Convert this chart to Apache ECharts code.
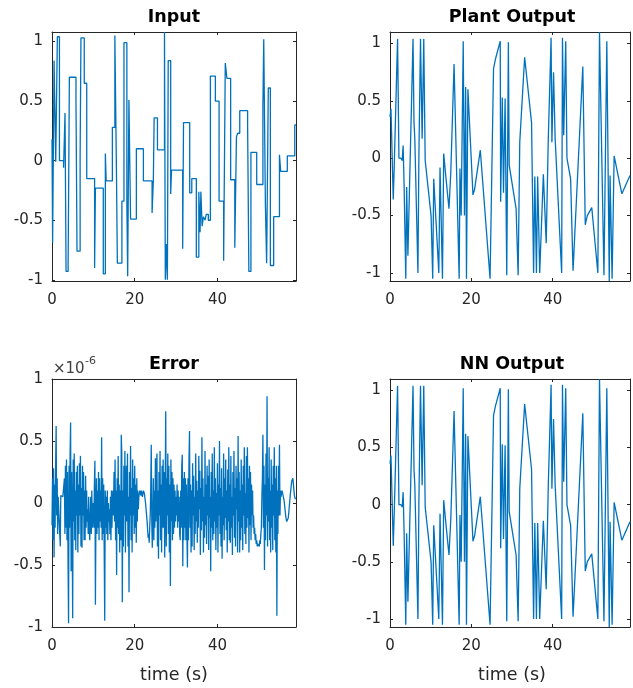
<!DOCTYPE html>
<html>
<head>
<meta charset="utf-8">
<script src="https://cdn.jsdelivr.net/npm/echarts@6.0.0/dist/echarts.min.js"></script>
<style>
  html, body { margin: 0; padding: 0; background: #fff; }
  #chart { width: 633px; height: 688px; }
</style>
</head>
<body>
<div id="chart"></div>
<script>
// time axis (s)
const xTicks = [0, 20, 40];
const tMax = 59;

// Input: piecewise-constant, [time, value] held until next time
const inputSteps = [
  [0, 0.18], [0.15, -0.69], [0.5, 0.84], [0.9, -0.01], [1.3, 1.04], [1.8, 0.0],
  [2.8, -0.06], [3.15, 0.40], [3.4, -0.93], [3.9, -0.88], [4.2, 0.70], [5.8, 0.50],
  [6.05, -0.76], [6.8, 0.04], [7.0, 1.03], [7.8, 0.65], [8.4, -0.15], [10.3, -0.9],
  [10.5, -0.23], [12.4, -0.95], [12.9, 0.06], [13.1, -0.17], [14.6, 0.28], [15.2, 1.05],
  [15.6, -0.14], [15.8, -0.86], [16.9, -0.34], [17.4, 0.99], [18.1, -0.36], [18.3, -0.97],
  [18.6, 0.51], [19.0, -0.49], [20.4, 0.10], [22.1, -0.17], [24.2, -0.44], [24.5, -0.17],
  [24.7, 0.36], [25.5, 0.09], [27.2, 1.08], [27.4, -1.0], [27.6, -0.7], [27.9, -1.0],
  [28.1, 0.84], [28.7, -0.28], [28.9, -0.08], [31.6, -0.74], [31.8, 0.32], [33.3, -0.27],
  [33.8, -0.15], [34.9, -0.81], [35.5, -0.26], [35.8, -0.6], [36.0, -0.26], [36.3, -0.55],
  [36.6, -0.47], [37.0, -0.5], [37.3, -0.45], [37.8, -0.5], [38.3, 0.71], [39.5, 0.5],
  [40.4, -0.34], [41.5, -0.84], [41.9, 0.82], [42.3, 0.69], [43.2, -0.16], [44.2, -0.73],
  [44.6, 0.2], [44.9, 0.23], [45.4, 0.42], [47.3, 0.3], [47.6, -0.93], [48.1, 0.07],
  [49.5, -0.2], [51.0, 0.47], [51.2, 1.02], [51.6, -0.37], [51.9, -0.86], [52.3, 0.61],
  [52.8, -0.88], [53.6, -0.47], [55.0, 0.05], [55.3, -0.09], [56.9, 0.04], [58.7, 0.3],
  [59.0, 0.3]
];

// Plant output vertices [time, value]
const plantOutput = [
  [0, 0.36], [0.24, 0.43], [0.8, -0.36], [1.05, -0.06], [1.4, -0.05], [1.86, 1.04],
  [2.2, 0.0], [2.7, 0.0], [3.0, -0.02], [3.23, 0.11], [3.47, -0.24], [3.88, -1.05],
  [4.1, -0.25], [4.4, -0.85], [5.66, 1.04], [5.9, 0.31], [6.1, 0.17], [6.87, -1.0],
  [7.1, 0.02], [7.5, 1.04], [7.9, 0.17], [8.3, 1.04], [8.65, -0.02], [10.1, -0.5],
  [10.5, -1.05], [10.75, -0.18], [12.0, -1.0], [12.3, -0.08], [12.9, -1.05], [13.2, 0.04],
  [13.7, -0.15], [14.5, -0.44], [14.95, -0.12], [15.75, 0.82], [17.0, -1.05], [17.2, -0.09],
  [17.5, -0.5], [18.0, 1.02], [18.3, -0.5], [18.6, 0.62], [18.8, -1.05], [19.15, 0.6],
  [19.6, 0.6], [20.4, -0.32], [20.8, -0.27], [22.2, 0.07], [24.6, -1.05], [25.45, 0.78],
  [25.9, 0.86], [27.1, 1.02], [27.2, -0.38], [27.6, 0.53], [27.9, -0.3], [28.3, 0.52],
  [28.7, -1.02], [29.1, 1.01], [29.3, -0.06], [31.0, -0.44], [31.5, -1.02], [31.9, 0.14],
  [33.1, 0.88], [34.8, 0.31], [35.3, -1.0], [35.6, -0.16], [36.0, -1.0], [36.3, -0.16],
  [36.8, -1.0], [37.7, -0.14], [38.4, -0.74], [38.9, 0.15], [39.6, 1.05], [39.8, 0.14],
  [40.2, 0.75], [40.6, 0.17], [42.2, -1.0], [42.4, 1.05], [42.7, 0.2], [43.2, 1.02],
  [43.5, 0.0], [44.4, -0.18], [45.0, -0.98], [47.4, 0.8], [48.0, -0.58], [48.5, -0.5],
  [49.6, -0.43], [51.1, -1.0], [51.5, 1.1], [52.6, -1.02], [53.3, 1.02], [53.9, -1.07],
  [54.1, -0.15], [54.6, -1.05], [55.1, 0.02], [57.0, -0.31], [59.0, -0.15]
];

// NN output is indistinguishable from the plant output (error ~1e-6)
const nnOutput = plantOutput;

// Error (x 1e-6), sampled every errorDt seconds, one row per second
const errorDt = 0.125;
const errorValues = [
  -0.18, 0.2, -0.3, 0.28, -0.44, 0.15, -0.2, 0.3,
  0.62, -0.1, 0.2, -0.25, 0.05, 0.06, 0.05, 0.05,
  -0.35, 0.06, 0.05, 0.07, 0.06, 0.05, 0.05, 0.06,
  0.2, -0.25, 0.3, -0.2, 0.35, -0.3, 0.25, -0.45,
  -0.97, 0.3, -0.2, 0.4, 0.65, -0.55, 0.25, -0.2,
  -0.93, 0.35, -0.15, 0.4, -0.3, 0.1, -0.38, 0.25,
  -0.1, 0.3, -0.4, 0.15, -0.25, 0.32, -0.1, 0.38,
  -0.35, 0.12, -0.36, 0.3, -0.1, 0.25, -0.3, 0.1,
  -0.3, 0.22, -0.2, 0.1, -0.15, -0.05, -0.25, 0.05,
  -0.2, -0.3, -0.1, 0.05, -0.25, 0.1, -0.2, -0.05,
  0.0, -0.2, 0.15, 0.34, -0.82, -0.1, 0.2, -0.25,
  0.1, -0.2, 0.25, -0.3, 0.2, -0.15, 0.1, -0.2,
  0.53, -0.3, 0.2, -0.25, 0.15, -0.4, -0.95, 0.1,
  -0.2, 0.05, -0.25, 0.1, -0.3, 0.0, -0.15, -0.05,
  -0.25, 0.05, -0.3, 0.1, -0.2, 0.05, 0.1, -0.1,
  0.25, -0.15, 0.35, -0.3, 0.1, -0.58, 0.2, -0.2,
  0.38, -0.25, 0.15, -0.4, 0.1, -0.3, 0.55, 0.4,
  -0.8, 0.1, -0.35, 0.3, -0.1, 0.42, -0.4, 0.15,
  0.3, -0.15, 0.4, -0.35, 0.05, -0.72, 0.25, -0.1,
  0.46, -0.3, 0.12, -0.4, 0.35, -0.1, 0.2, -0.25,
  0.3, -0.2, 0.15, -0.32, 0.2, -0.15, 0.1, -0.05,
  0.05, 0.08, 0.1, 0.08, 0.06, 0.1, 0.08, 0.05,
  0.08, 0.1, 0.1, 0.07, 0.03, 0.0, -0.05, -0.1,
  -0.15, -0.22, -0.28, -0.25, -0.32, -0.2, -0.1, 0.1,
  0.47, -0.15, -0.36, -0.1, 0.2, -0.3, 0.1, -0.2,
  0.36, -0.15, 0.2, 0.4, -0.35, 0.1, -0.45, 0.25,
  -0.1, 0.42, -0.3, 0.15, -0.4, 0.3, -0.2, 0.35,
  -0.2, 0.25, -0.44, 0.1, 0.74, -0.35, 0.2, -0.1,
  0.4, -0.25, 0.3, -0.4, 0.15, -0.67, 0.35, -0.15,
  0.25, -0.3, 0.2, -0.25, 0.15, -0.2, 0.1, -0.15,
  0.05, -0.1, 0.15, -0.2, 0.1, -0.15, 0.05, -0.25,
  -0.3, 0.1, -0.2, 0.3, 0.39, -0.51, 0.2, -0.3,
  0.25, -0.2, 0.2, -0.3, 0.15, -0.25, -0.52, 0.2,
  -0.3, 0.35, 0.58, -0.2, 0.15, -0.4, 0.1, -0.35,
  0.32, -0.1, 0.22, -0.38, 0.05, -0.25, 0.4, -0.15,
  0.18, -0.32, 0.1, -0.2, 0.38, -0.05, 0.26, -0.42,
  0.12, -0.22, 0.53, -0.15, 0.2, -0.4, 0.05, -0.28,
  0.42, -0.18, 0.15, -0.33, 0.3, -0.1, 0.22, -0.38,
  0.35, -0.12, 0.05, -0.55, 0.25, -0.2, 0.4, -0.3,
  0.1, -0.25, 0.45, -0.15, 0.2, -0.38, 0.08, -0.2,
  0.32, -0.4, 0.15, -0.1, 0.5, -0.25, 0.12, -0.35,
  0.28, -0.45, 0.05, -0.18, 0.4, -0.3, 0.2, -0.12,
  0.35, -0.22, 0.1, -0.4, 0.27, -0.15, 0.45, -0.3,
  0.15, -0.32, 0.38, -0.2, 0.05, -0.42, 0.25, -0.1,
  0.42, -0.28, 0.12, -0.35, 0.3, -0.05, 0.2, -0.4,
  0.54, -0.15, 0.25, -0.4, 0.1, -0.3, 0.35, -0.2,
  0.15, -0.38, 0.3, -0.1, 0.45, -0.25, 0.08, -0.33,
  0.38, -0.2, 0.45, -0.12, 0.2, -0.4, 0.3, -0.18,
  0.25, -0.3, 0.15, -0.1, 0.1, -0.2, -0.1, -0.25,
  -0.2, -0.3, -0.25, -0.33, -0.3, -0.35, -0.33, -0.34,
  -0.33, -0.35, -0.3, -0.33, -0.25, -0.2, 0.05, 0.2,
  0.55, -0.2, 0.3, -0.54, 0.15, -0.3, 0.4, -0.1,
  0.86, -0.35, 0.2, -0.15, 0.45, -0.3, 0.1, -0.4,
  0.35, -0.2, 0.15, -0.38, 0.3, -0.1, 0.45, -0.3,
  0.2, -0.4, 0.3, -0.91, 0.1, -0.25, 0.3, -0.1,
  0.47, -0.1, 0.1, 0.05, 0.08, 0.1, 0.08, 0.06,
  0.05, 0.02, -0.02, -0.06, -0.1, -0.13, -0.15, -0.16,
  -0.15, -0.12, -0.08, -0.03, 0.02, 0.07, 0.11, 0.15,
  0.18, 0.19, 0.2, 0.15, 0.1, 0.06, 0.04, 0.03,
  0.03
];
const errorData = errorValues.map((v, i) => [i * errorDt, v]);

const panels = [
  { title: 'Input', left: 52, top: 32, height: 249, yMin: -1.01, yMax: 1.08, data: inputSteps, step: 'end' },
  { title: 'Plant Output', left: 390, top: 32, height: 249, yMin: -1.07, yMax: 1.1, data: plantOutput },
  { title: 'Error', left: 52, top: 379, height: 248, yMin: -1, yMax: 1, data: errorData },
  { title: 'NN Output', left: 390, top: 379, height: 248, yMin: -1.07, yMax: 1.1, data: nnOutput }
];

const axisColor = '#262626';
const font = 'DejaVu Sans';
const lineColor = '#0072BD';

const onStep = (v, s) => Math.abs(v / s - Math.round(v / s)) < 1e-6;

const grid = [], xAxis = [], yAxis = [], series = [], graphic = [];

panels.forEach((p, i) => {
  grid.push({ left: p.left, top: p.top, width: 244, height: p.height });
  const common = {
    axisLine: { show: true, onZero: false, lineStyle: { color: axisColor, width: 1 } },
    axisTick: { show: true, inside: true, length: 3, lineStyle: { color: axisColor } },
    splitLine: { show: false }
  };
  xAxis.push(Object.assign({
    type: 'value', gridIndex: i, position: 'bottom', min: 0, max: tMax, interval: 20,
    axisLabel: {
      color: axisColor, fontFamily: font, fontSize: 15, margin: 12,
      formatter: v => (xTicks.includes(v) ? String(v) : '')
    }
  }, common));
  xAxis.push(Object.assign({
    type: 'value', gridIndex: i, position: 'top', min: 0, max: tMax, interval: 20,
    axisLabel: { show: false }
  }, common));
  yAxis.push(Object.assign({
    type: 'value', gridIndex: i, position: 'left', min: p.yMin, max: p.yMax, splitNumber: 4,
    axisLabel: {
      color: axisColor, fontFamily: font, fontSize: 15, margin: 9,
      formatter: v => (onStep(v, 0.5) ? String(Math.round(v * 2) / 2) : '')
    }
  }, common));
  yAxis.push(Object.assign({
    type: 'value', gridIndex: i, position: 'right', min: p.yMin, max: p.yMax, splitNumber: 4,
    axisLabel: { show: false }
  }, common));

  series.push({
    type: 'line', name: p.title, xAxisIndex: 2 * i, yAxisIndex: 2 * i,
    data: p.data, step: p.step || false, showSymbol: false, clip: true,
    lineStyle: { color: lineColor, width: 1.3 }, z: 1
  });

  graphic.push({
    type: 'text', x: p.left + 122, y: p.top - 15,
    style: { text: p.title, align: 'center', verticalAlign: 'middle', fontFamily: font,
      fontSize: 17.5, fontWeight: 'bold', fill: '#000' }
  });
});

['time (s)', 'time (s)'].forEach((t, k) => {
  graphic.push({
    type: 'text', x: panels[2 + k].left + 122, y: 675,
    style: { text: t, align: 'center', verticalAlign: 'middle', fontFamily: font,
      fontSize: 17.5, fill: axisColor }
  });
});

// exponent label of the error axis
graphic.push({
  type: 'text', x: 53, y: 369,
  style: { text: '\u00d710', align: 'left', verticalAlign: 'middle', fontFamily: font, fontSize: 15, fill: '#404040' }
});
graphic.push({
  type: 'text', x: 85, y: 361,
  style: { text: '-6', align: 'left', verticalAlign: 'middle', fontFamily: font, fontSize: 11, fill: '#404040' }
});

const chart = echarts.init(document.getElementById('chart'), null, { renderer: 'canvas' });
chart.setOption({
  animation: false,
  backgroundColor: '#fff',
  grid, xAxis, yAxis, series, graphic
});
</script>
</body>
</html>
